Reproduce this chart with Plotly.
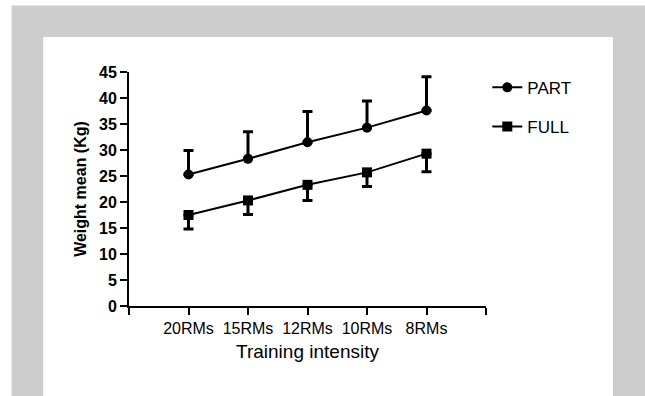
import plotly.graph_objects as go

# ---- data ----
categories = ["20RMs", "15RMs", "12RMs", "10RMs", "8RMs"]
part_mean = [25.3, 28.3, 31.5, 34.3, 37.6]
part_err = [4.6, 5.2, 5.9, 5.1, 6.5]
full_mean = [17.5, 20.3, 23.3, 25.7, 29.3]
full_err = [2.7, 2.7, 3.0, 2.7, 3.5]
y_ticks = [0, 5, 10, 15, 20, 25, 30, 35, 40, 45]

x_pos = list(range(1, len(categories) + 1))
zeros = [0] * len(categories)

W, H = 645, 396
L, R, T, B = 128.5, 645 - 485.7, 71.7, 396 - 306.0
pw, ph = W - L - R, H - T - B

def px(x):
    return (x - L) / pw

def py(y):
    return (H - B - y) / ph

fig = go.Figure()
fig.add_trace(go.Scatter(
    x=x_pos, y=part_mean, name="PART", mode="lines+markers",
    line=dict(color="black", width=2),
    marker=dict(symbol="circle", size=10, color="black"),
    error_y=dict(type="data", symmetric=False, array=part_err, arrayminus=zeros,
                 color="black", thickness=3, width=5),
    legendgroup="a",
))
fig.add_trace(go.Scatter(
    x=x_pos, y=full_mean, name="FULL", mode="lines+markers",
    line=dict(color="black", width=2),
    marker=dict(symbol="square", size=10, color="black"),
    error_y=dict(type="data", symmetric=False, array=zeros, arrayminus=full_err,
                 color="black", thickness=3, width=5),
    legendgroup="b",
))

font_family = "Liberation Sans, Arial, sans-serif"

fig.update_layout(
    width=W, height=H,
    margin=dict(l=L, r=R, t=T, b=B, autoexpand=False),
    paper_bgcolor="white", plot_bgcolor="rgba(0,0,0,0)",
    font=dict(family=font_family, color="black"),
    showlegend=True,
    legend=dict(x=px(487), y=py(69.5), xanchor="left", yanchor="top",
                font=dict(size=17, family=font_family, color="black"),
                tracegroupgap=14, bgcolor="rgba(0,0,0,0)"),
    shapes=[
        dict(type="rect", xref="paper", yref="paper", layer="below",
             x0=px(11), x1=px(645), y0=py(5), y1=py(396),
             fillcolor="#cccccc", line=dict(width=0)),
        dict(type="rect", xref="paper", yref="paper", layer="below",
             x0=px(42.7), x1=px(612.7), y0=py(36.7), y1=py(396),
             fillcolor="white", line=dict(width=0)),
    ],
)

fig.update_xaxes(
    range=[0, len(categories) + 1],
    tickmode="array",
    tickvals=[0] + x_pos + [len(categories) + 1],
    ticktext=[""] + categories + [""],
    showline=True, linecolor="black", linewidth=2,
    ticks="outside", ticklen=7, tickwidth=2, tickcolor="black",
    showgrid=False, zeroline=False,
    tickfont=dict(size=16, family=font_family),
    title=dict(text="Training intensity", font=dict(size=19, family=font_family), standoff=8),
)
fig.update_yaxes(
    range=[0, 45],
    tickmode="array", tickvals=y_ticks,
    showline=True, linecolor="black", linewidth=2,
    ticks="outside", ticklen=7, tickwidth=2, tickcolor="black",
    showgrid=False, zeroline=False,
    tickfont=dict(size=16, family=font_family, weight="bold"),
    title=dict(text="<b>Weight mean (Kg)</b>", font=dict(size=16, family=font_family), standoff=8),
)

fig.write_html("out.html", config={"displayModeBar": False},
               post_script="document.body.style.margin='0px';")
